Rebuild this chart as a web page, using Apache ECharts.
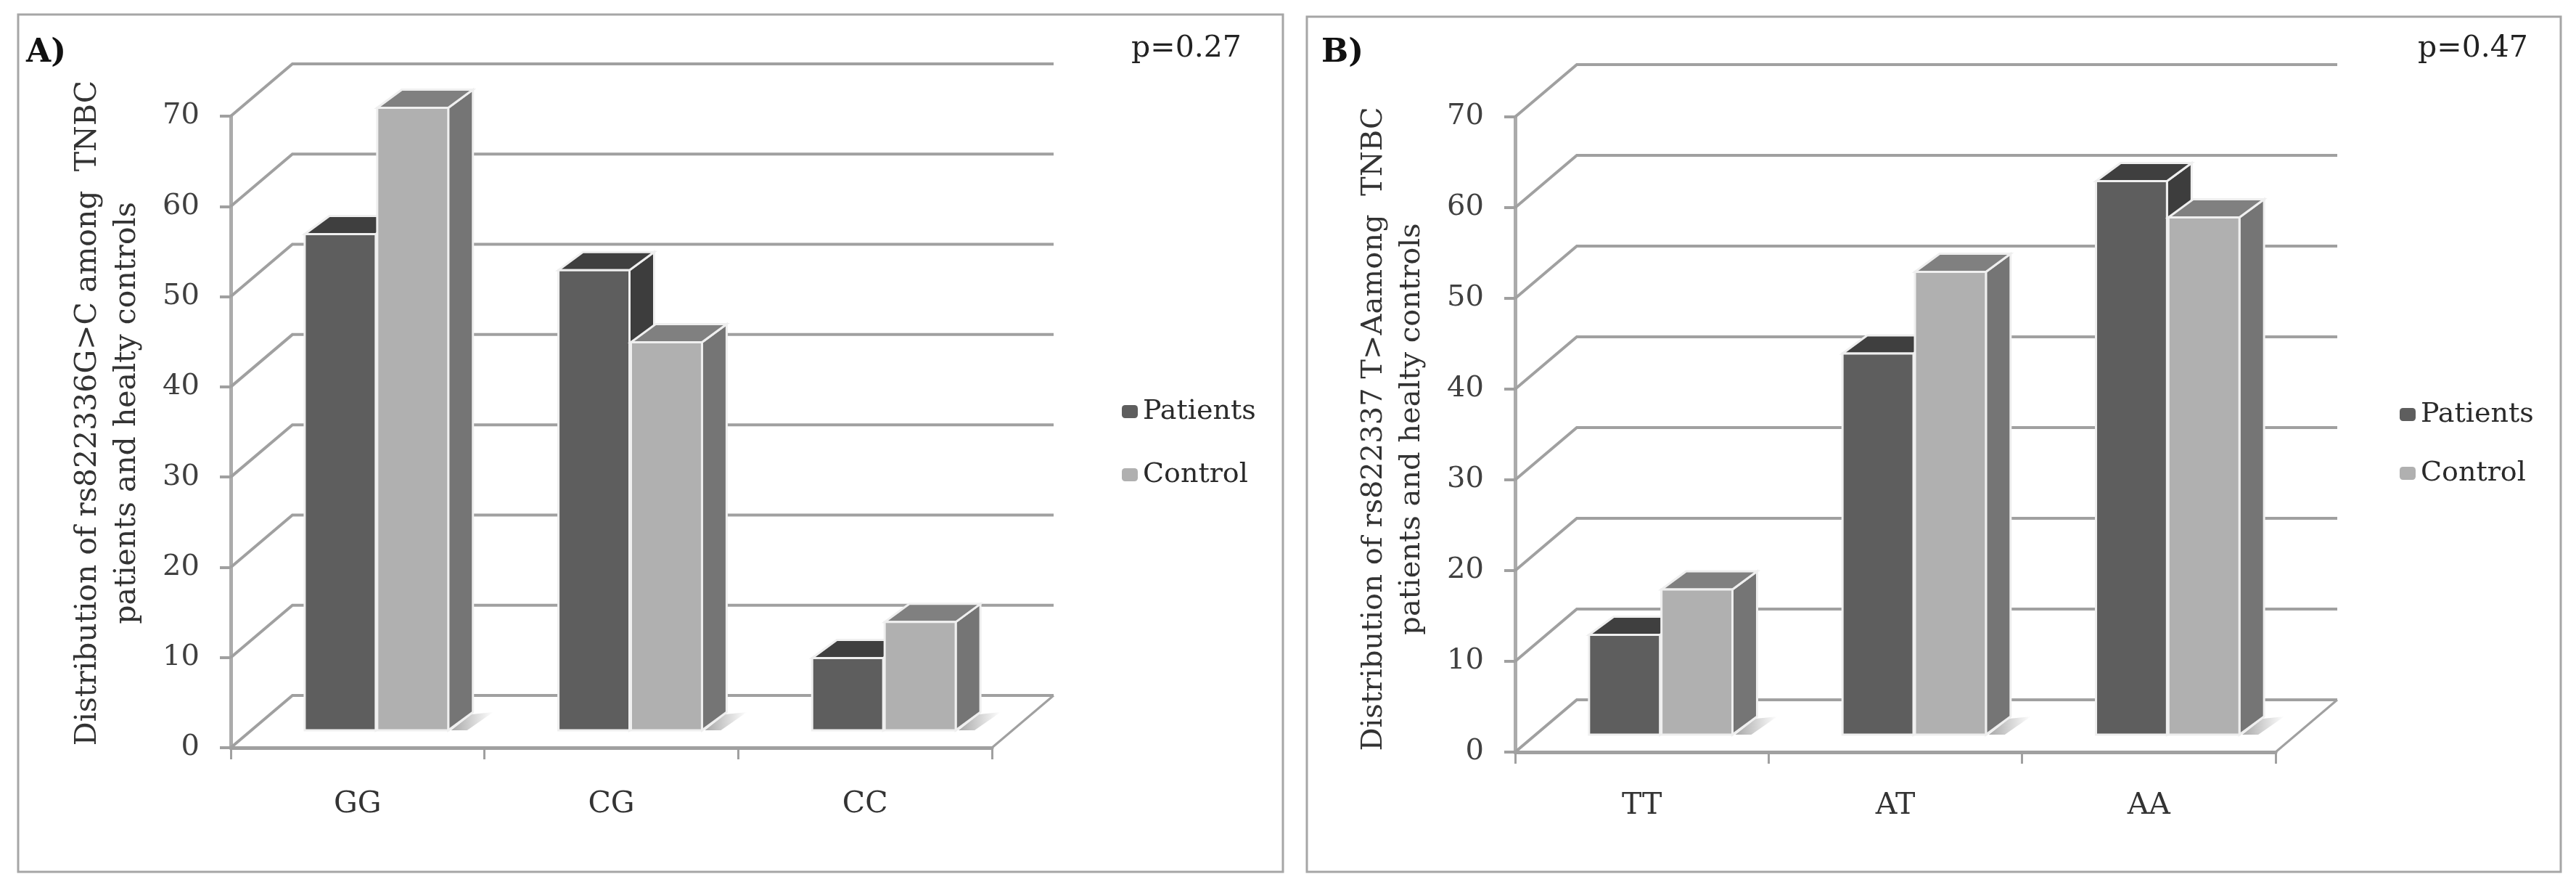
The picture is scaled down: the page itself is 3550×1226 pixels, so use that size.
<!DOCTYPE html>
<html>
<head>
<meta charset="utf-8">
<style>html,body{margin:0;padding:0;background:#fff}#c{width:3550px;height:1226px}</style>
<script src="https://cdn.jsdelivr.net/npm/echarts@6/dist/echarts.min.js"></script>
</head>
<body>
<div id="c"></div>
<script>
const yTicks = [0, 10, 20, 30, 40, 50, 60, 70];
const categoriesA = ['GG', 'CG', 'CC'];
const patientsA = [55, 51, 8];
const controlA = [69, 43, 12];
const categoriesB = ['TT', 'AT', 'AA'];
const patientsB = [11, 42, 61];
const controlB = [16, 51, 57];
const seriesNames = ['Patients', 'Control'];
const pValues = ['p=0.27', 'p=0.47'];
const panelLabels = ['A)', 'B)'];
const yTitles = [
  'Distribution of rs822336G>C among  TNBC\npatients and healty controls',
  'Distribution of rs822337 T>Aamong  TNBC\npatients and healty controls'
];

const SERIF = '"DejaVu Serif"';
const LINE = '#a0a0a0';
const WALL_DX = 85, WALL_DY = -72;
const BAR_DX = 34, BAR_DY = -25, BASE_DY = -24, BAR_SHIFT = 26;
const styles = [
  { front: '#5e5e5e', top: '#3f3f3f', side: '#3d3d3d' },
  { front: '#b0b0b0', top: '#808080', side: '#757575' }
];

function wallRender(params, api) {
  const tick = api.value(1);
  const band = api.size([1, 0])[0];
  const p = api.coord([0, tick]);
  const x0 = p[0] - band / 2, y0 = p[1];
  const x1 = x0 + 3 * band;
  const style = { stroke: LINE, lineWidth: 4, fill: null };
  const children = [{
    type: 'polyline',
    shape: { points: [[x0, y0], [x0 + WALL_DX, y0 + WALL_DY], [x1 + WALL_DX, y0 + WALL_DY]] },
    style
  }];
  if (tick === 0) {
    children.push({
      type: 'line',
      shape: { x1: x1, y1: y0, x2: x1 + WALL_DX, y2: y0 + WALL_DY },
      style: { stroke: LINE, lineWidth: 3 }
    });
  }
  return { type: 'group', children };
}

function barRender(seriesPos) {
  return function (params, api) {
    const c = api.coord([api.value(0), api.value(1)]);
    const base = api.coord([api.value(0), 0])[1] + BASE_DY;
    const top = c[1] + BASE_DY;
    const band = api.size([1, 0])[0];
    const w = band * 0.28;
    const mid = c[0] + BAR_SHIFT;
    const l = seriesPos === 0 ? mid - w - 1 : mid + 1;
    const r = l + w;
    const s = styles[seriesPos];
    const edge = { stroke: '#efefef', lineWidth: 3, lineJoin: 'miter' };
    const children = [];
    if (seriesPos === 1) {
      children.push({
        type: 'polygon',
        shape: { points: [[r + 4, base], [r + 32, base + BAR_DY + 3], [r + 62, base + BAR_DY], [r + 26, base]] },
        style: {
          fill: new echarts.graphic.LinearGradient(0, 0, 1, 0, [
            { offset: 0, color: '#a8a8a8' }, { offset: 1, color: '#ffffff' }
          ])
        }
      });
    }
    children.push({
      type: 'polygon',
      shape: { points: [[r, top], [r + BAR_DX, top + BAR_DY], [r + BAR_DX, base + BAR_DY], [r, base]] },
      style: Object.assign({ fill: s.side }, edge)
    });
    children.push({
      type: 'polygon',
      shape: { points: [[l, top], [l + BAR_DX, top + BAR_DY], [r + BAR_DX, top + BAR_DY], [r, top]] },
      style: Object.assign({ fill: s.top }, edge)
    });
    children.push({
      type: 'rect',
      shape: { x: l, y: top, width: w, height: base - top },
      style: Object.assign({ fill: s.front }, edge)
    });
    return { type: 'group', children };
  };
}

const panels = [
  { left: 318, width: 1049, top: 160, height: 870, cats: categoriesA, p: patientsA, c: controlA,
    frame: [25, 20, 1743, 1181], label: [36, 74], pText: [1635, 67], legend: [1546, 548], legendGap: 49,
    catMargin: 58, titleGap: 116, titlePad: 52, titleSize: 41, titleLine: 54 },
  { left: 2088, width: 1048, top: 161, height: 875, cats: categoriesB, p: patientsB, c: controlB,
    frame: [1801, 23, 1728, 1178], label: [1821, 74], pText: [3408, 67], legend: [3307, 552], legendGap: 43,
    catMargin: 54, titleGap: 116, titlePad: 15, titleSize: 40, titleLine: 52 }
];

const option = {
  backgroundColor: '#ffffff',
  animation: false,
  textStyle: { fontFamily: SERIF },
  legend: panels.map(p => ({
    left: p.legend[0], top: p.legend[1], orient: 'vertical', padding: 0,
    data: seriesNames, itemWidth: 22, itemHeight: 18, itemGap: p.legendGap, selectedMode: false,
    textStyle: { fontFamily: SERIF, fontSize: 38, color: '#2a2a2a', padding: [0, 0, 0, 2] }
  })),
  grid: panels.map(p => ({ left: p.left, width: p.width, top: p.top, height: p.height, containLabel: false })),
  xAxis: panels.map((p, i) => ({
    type: 'category', gridIndex: i, data: p.cats,
    axisLine: { lineStyle: { color: LINE, width: 5 } },
    axisTick: { show: true, length: 16, lineStyle: { color: LINE, width: 3 } },
    axisLabel: { fontFamily: SERIF, fontSize: 41, color: '#333', margin: p.catMargin }
  })),
  yAxis: panels.map((p, i) => ({
    type: 'value', gridIndex: i, min: 0, max: 70, interval: 10,
    splitLine: { show: false },
    axisLine: { show: true, lineStyle: { color: '#ababab', width: 5 } },
    axisTick: { show: true, length: 15, lineStyle: { color: LINE, width: 4 } },
    axisLabel: { fontFamily: SERIF, fontSize: 40, color: '#404040', margin: 43, padding: [8, 0, 0, 0] },
    name: yTitles[i], nameLocation: 'middle', nameGap: p.titleGap, nameRotate: 90,
    nameTextStyle: { fontFamily: SERIF, fontSize: p.titleSize, color: '#333', lineHeight: p.titleLine, align: 'center', padding: [0, 0, 0, p.titlePad] }
  })),
  series: panels.flatMap((p, i) => [
    { type: 'custom', name: 'wall', xAxisIndex: i, yAxisIndex: i, z: 1, silent: true,
      renderItem: wallRender, encode: { x: 0, y: 1 }, data: yTicks.map(t => [0, t]) },
    { type: 'custom', name: seriesNames[0], xAxisIndex: i, yAxisIndex: i, z: 3,
      itemStyle: { color: styles[0].front }, renderItem: barRender(0), encode: { x: 0, y: 1 },
      data: p.p.map((v, k) => [k, v]) },
    { type: 'custom', name: seriesNames[1], xAxisIndex: i, yAxisIndex: i, z: 4,
      itemStyle: { color: styles[1].front }, renderItem: barRender(1), encode: { x: 0, y: 1 },
      data: p.c.map((v, k) => [k, v]) }
  ]),
  graphic: panels.flatMap((p, i) => [
    { type: 'rect', silent: true, z: 0, shape: { x: p.frame[0], y: p.frame[1], width: p.frame[2], height: p.frame[3] },
      style: { fill: null, stroke: '#a6a6a6', lineWidth: 3 } },
    { type: 'text', silent: true, x: p.label[0], y: p.label[1],
      style: { text: panelLabels[i], fontFamily: SERIF, fontWeight: 'bold', fontSize: 44, fill: '#111', verticalAlign: 'middle' } },
    { type: 'text', silent: true, x: p.pText[0], y: p.pText[1],
      style: { text: pValues[i], fontFamily: SERIF, fontSize: 41, fill: '#222', align: 'center', verticalAlign: 'middle' } }
  ])
};

const chart = echarts.init(document.getElementById('c'), null, { renderer: 'canvas', width: 3550, height: 1226 });
chart.setOption(option);
</script>
</body>
</html>
